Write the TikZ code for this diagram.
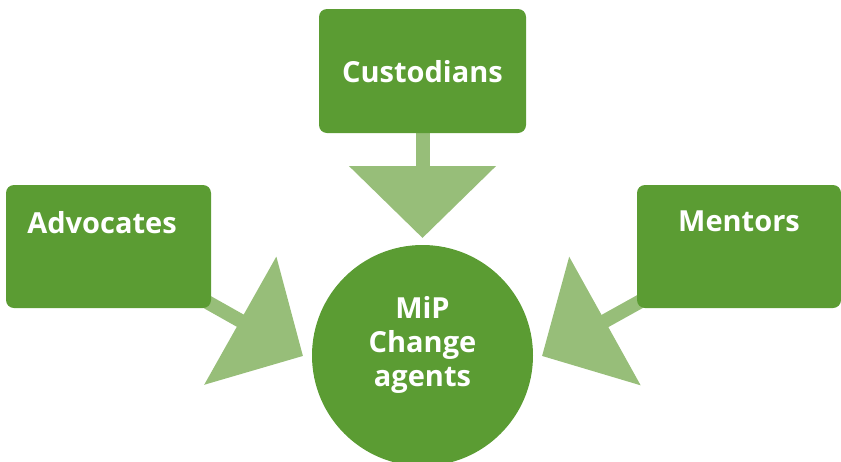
\documentclass[tikz,border=0pt]{standalone}
\usepackage{fontspec}
\setmainfont{Open Sans}
\usetikzlibrary{arrows.meta,backgrounds}
\definecolor{leaf}{RGB}{91,156,51}
\definecolor{sage}{RGB}{151,190,121}
\begin{document}
\begin{tikzpicture}[x=1pt,y=-1pt,
  role/.style={fill=leaf, rounded corners=8pt, inner sep=0pt,
    minimum height=123pt, text=white,
    font=\bfseries\fontsize{29}{34}\selectfont},
  hubtxt/.style={text=white, inner sep=0pt, align=center,
    font=\bfseries\fontsize{29}{34}\selectfont},
  flow/.style={draw=sage, line width=14pt,
    -{Triangle[length=72pt,width=144pt]}}]
  \useasboundingbox (0,0) rectangle (841,461);

  % the three roles
  \node[role, minimum width=205pt, text height=48pt, text depth=75pt]
    (adv) at (108.5,246.5) {Advocates\kern13pt};
  \node[role, minimum width=207pt, minimum height=124pt,
    text height=73pt, text depth=51pt]
    (cust) at (422.5,71) {Custodians};
  \node[role, minimum width=204pt, text height=46pt, text depth=77pt]
    (ment) at (739,246.5) {Mentors};

  % central circle
  \node[circle, fill=leaf, minimum size=221pt, inner sep=0pt]
    (hub) at (422.5,355.5) {};
  \node[hubtxt] (hubtext) at (422.5,345) {MiP\\Change\\agents};

  % arrow tips stop just short of the circle
  \coordinate (tipA) at (303,356);
  \coordinate (tipC) at (422.5,238);
  \coordinate (tipM) at (542,356);

  \begin{scope}[on background layer]
    \draw[flow] (adv.center) -- (tipA);
    \draw[flow] (cust.center) -- (tipC);
    \draw[flow] (ment.center) -- (tipM);
  \end{scope}
\end{tikzpicture}
\end{document}
